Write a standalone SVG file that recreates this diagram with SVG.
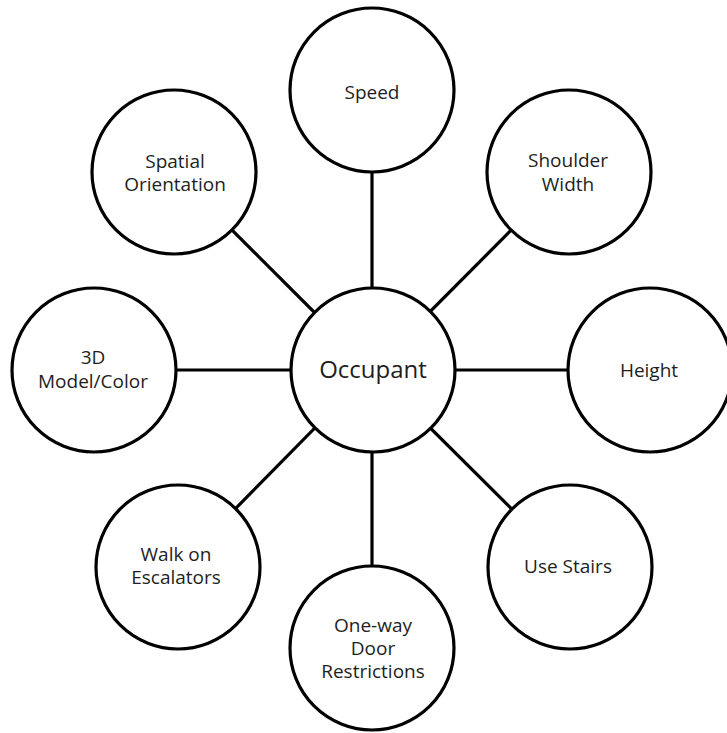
<svg xmlns="http://www.w3.org/2000/svg" width="727" height="733" viewBox="0 0 727 733">
  <style>
    .node circle { fill: #ffffff; stroke: #000000; stroke-width: 3.2; }
    .node text { font-family: "Open Sans", "Noto Sans", sans-serif; font-size: 19px; fill: #1e1e1e; text-anchor: middle; }
    #occupant text { font-size: 24px; }
    #connectors line { stroke: #000000; stroke-width: 3.2; }
  </style>
  <rect width="727" height="733" fill="#ffffff"/>

  <!-- spokes from the hub to each attribute -->
  <g id="connectors">
    <line x1="372" y1="370" x2="372" y2="90"/>
    <line x1="372" y1="370" x2="569" y2="172"/>
    <line x1="372" y1="370" x2="650" y2="370"/>
    <line x1="372" y1="370" x2="570" y2="567"/>
    <line x1="372" y1="370" x2="372" y2="648"/>
    <line x1="372" y1="370" x2="178" y2="567"/>
    <line x1="372" y1="370" x2="94" y2="370"/>
    <line x1="372" y1="370" x2="174" y2="172"/>
  </g>

  <g id="occupant" class="node">
    <circle cx="373" cy="370" r="82"/>
    <text x="373" y="378">Occupant</text>
  </g>
  <g id="speed" class="node">
    <circle cx="372" cy="90" r="82"/>
    <text x="372" y="99">Speed</text>
  </g>
  <g id="shoulder-width" class="node">
    <circle cx="569" cy="172" r="82"/>
    <text x="568" y="167">Shoulder</text>
    <text x="568" y="191">Width</text>
  </g>
  <g id="height" class="node">
    <circle cx="650" cy="370" r="82"/>
    <text x="649" y="377">Height</text>
  </g>
  <g id="use-stairs" class="node">
    <circle cx="570" cy="567" r="82"/>
    <text x="568" y="573">Use Stairs</text>
  </g>
  <g id="one-way-door" class="node">
    <circle cx="372" cy="648" r="82"/>
    <text x="373" y="632">One-way</text>
    <text x="373" y="655">Door</text>
    <text x="373" y="678">Restrictions</text>
  </g>
  <g id="walk-on-escalators" class="node">
    <circle cx="178" cy="567" r="82"/>
    <text x="176" y="561">Walk on</text>
    <text x="176" y="584">Escalators</text>
  </g>
  <g id="model-color" class="node">
    <circle cx="94" cy="370" r="82"/>
    <text x="93" y="364">3D</text>
    <text x="93" y="388">Model/Color</text>
  </g>
  <g id="spatial-orientation" class="node">
    <circle cx="174" cy="172" r="82"/>
    <text x="175" y="168">Spatial</text>
    <text x="175" y="191">Orientation</text>
  </g>
</svg>
